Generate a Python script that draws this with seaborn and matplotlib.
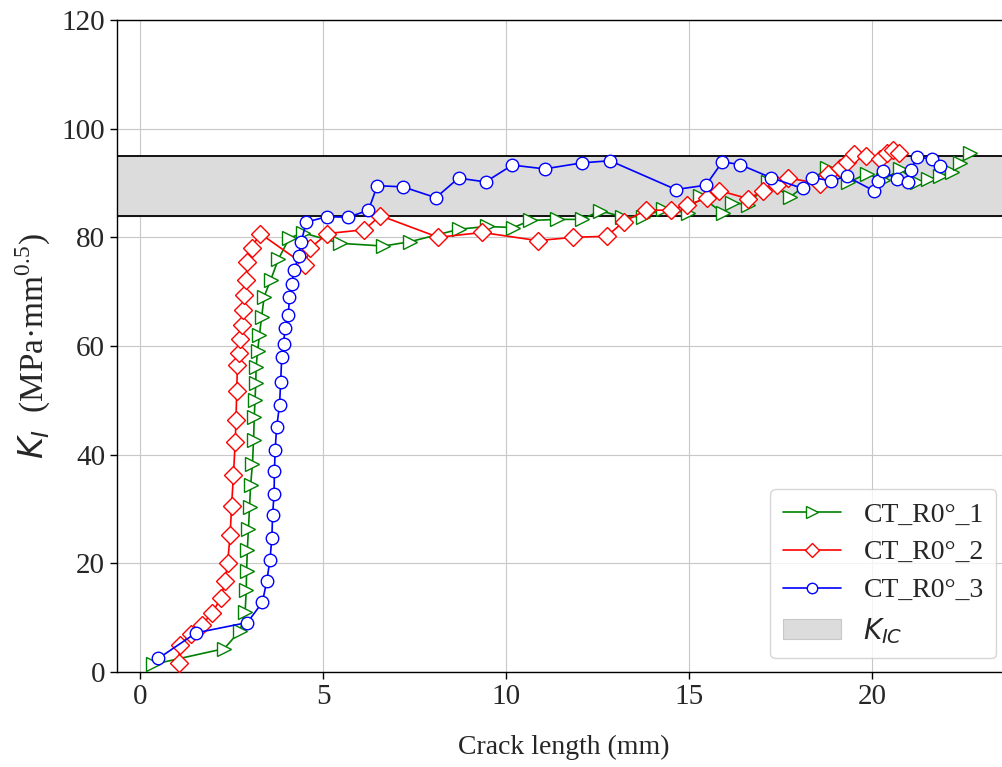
import numpy as np
import pandas as pd
import matplotlib
matplotlib.use("Agg")
import matplotlib.pyplot as plt
import seaborn as sns
from matplotlib.patches import Patch
from matplotlib.lines import Line2D

# ─────────────────────────────────────────
# DATA
# ─────────────────────────────────────────
x_ct1 = [0.36, 2.30, 2.73, 2.87, 2.90, 2.91, 2.93, 2.96, 2.99, 3.02, 3.07, 3.10,
         3.12, 3.14, 3.16, 3.17, 3.21, 3.26, 3.32, 3.39, 3.57, 3.78, 4.08, 4.46,
         5.46, 6.65, 7.38, 8.72, 9.47, 10.20, 10.66, 11.38, 12.07, 12.57, 13.16,
         13.75, 14.30, 14.98, 15.30, 15.94, 16.17, 16.62, 17.17, 17.76, 18.76,
         19.35, 19.85, 20.30, 20.77, 21.22, 21.54, 21.86, 22.18, 22.40, 22.68]
y_ct1 = [1.4, 4.3, 7.6, 11.1, 15.0, 18.6, 22.5, 26.3, 30.4, 34.4, 38.3, 42.7,
         47.0, 50.1, 53.1, 56.2, 59.0, 62.0, 65.3, 69.1, 72.2, 76.0, 79.9, 80.8,
         78.9, 78.4, 79.2, 81.5, 82.0, 81.8, 83.1, 83.3, 83.3, 84.9, 83.8,
         83.8, 85.2, 84.5, 87.6, 84.4, 86.4, 86.0, 90.2, 87.4, 92.7,
         90.1, 91.7, 90.6, 92.5, 90.2, 90.7, 91.3, 92.1, 93.6, 95.5]

x_ct2 = [1.05, 1.09, 1.40, 1.69, 1.96, 2.21, 2.32, 2.39, 2.46, 2.46, 2.50, 2.55,
         2.55, 2.60, 2.62, 2.64, 2.64, 2.66, 2.69, 2.73, 2.78, 2.81, 2.84, 2.90,
         2.93, 3.05, 3.28, 4.50, 4.64, 5.12, 6.13, 6.56, 8.15, 9.34, 10.86,
         11.84, 12.75, 13.22, 13.83, 14.50, 14.95, 15.50, 15.83, 16.62, 17.03,
         17.40, 17.71, 18.58, 18.81, 19.13, 19.31, 19.51, 19.83, 20.22, 20.40,
         20.58, 20.75]
y_ct2 = [1.6, 5.0, 7.0, 8.7, 10.8, 13.6, 16.7, 20.0, 23.4, 27.1, 30.6, 34.4,
         38.2, 42.4, 46.4, 50.2, 53.4, 56.5, 58.7, 61.2, 63.9, 66.6, 69.4, 72.2,
         75.5, 78.1, 80.7, 74.9, 78.0, 80.7, 81.4, 84.0, 80.0, 80.9, 79.4,
         80.0, 80.2, 82.9, 85.0, 85.0, 86.0, 87.2, 88.6, 87.1, 88.6,
         89.6, 90.9, 89.9, 91.7, 92.7, 93.9, 95.3, 95.0, 94.4, 95.6,
         96.0, 95.6]

x_ct3 = [0.50, 1.53, 2.93, 3.34, 3.46, 3.55, 3.60, 3.62, 3.66, 3.67, 3.69, 3.73,
         3.81, 3.84, 3.87, 3.92, 3.96, 4.05, 4.08, 4.14, 4.21, 4.33, 4.40, 4.54,
         5.10, 5.69, 6.24, 6.48, 7.18, 8.08, 8.70, 9.44, 10.17, 11.05, 12.07,
         12.84, 14.64, 15.46, 15.91, 16.39, 17.23, 18.10, 18.37, 18.87, 19.31,
         20.04, 20.15, 20.29, 20.67, 20.97, 21.06, 21.24, 21.63, 21.86]
y_ct3 = [2.5, 7.2, 9.1, 12.8, 16.7, 20.7, 24.7, 28.9, 32.7, 36.9, 40.9, 45.0,
         49.1, 53.4, 57.9, 60.4, 63.3, 65.7, 69.0, 71.4, 73.9, 76.6, 79.1, 82.8,
         83.8, 83.7, 85.0, 89.5, 89.3, 87.3, 90.9, 90.2, 93.3, 92.6, 93.7,
         94.1, 88.8, 89.6, 93.9, 93.4, 91.0, 89.0, 91.0, 90.4, 91.2,
         88.6, 90.4, 92.3, 90.7, 90.1, 92.4, 94.8, 94.4, 93.1]

kic_low, kic_high = 84.0, 95.0

labels = ["CT_R0°_1", "CT_R0°_2", "CT_R0°_3"]
colors = ["green", "red", "blue"]
markers = [">", "D", "o"]
msizes = [10, 9, 9]

# ─────────────────────────────────────────
# STYLE
# ─────────────────────────────────────────
sns.set_style("whitegrid")
plt.rcParams["font.family"] = ["Liberation Serif", "DejaVu Serif"]
plt.rcParams["mathtext.fontset"] = "dejavusans"
plt.rcParams["axes.edgecolor"] = "black"
plt.rcParams["grid.color"] = "#c8c8c8"

fig = plt.figure(figsize=(10.03, 7.67), dpi=100)
# axes runs slightly past the right edge, as in the cropped original
ax = fig.add_axes([0.1167, 0.1239, 0.8903, 0.8500])

# K_IC band
ax.axhspan(kic_low, kic_high, color="#dcdcdc", zorder=1)
ax.axhline(kic_low, color="black", lw=1.3, zorder=2)
ax.axhline(kic_high, color="black", lw=1.3, zorder=2)

series = [(x_ct1, y_ct1), (x_ct2, y_ct2), (x_ct3, y_ct3)]
for (xs, ys), lab, c, m, ms in zip(series, labels, colors, markers, msizes):
    df = pd.DataFrame({"a": xs, "K": ys})
    sns.lineplot(data=df, x="a", y="K", sort=False, ax=ax, color=c, lw=1.2,
                 marker=m, markersize=ms, markerfacecolor="white",
                 markeredgecolor=c, markeredgewidth=1.0, zorder=3)

ax.set_xlim(-0.63, 23.77)
ax.set_ylim(0, 120)
ax.set_xticks([0, 5, 10, 15, 20])
ax.set_yticks(np.arange(0, 121, 20))
ax.tick_params(axis="both", which="major", labelsize=21, length=5,
               width=1, direction="out", bottom=True, left=True, color="black")
for s in ax.spines.values():
    s.set_color("black")
    s.set_linewidth(1.0)

ax.set_xlabel("Crack length (mm)", fontsize=20, labelpad=18)
ax.set_ylabel(r"$K_I$  (MPa·mm$^{\mathregular{0.5}}$)", fontsize=24, labelpad=6)

handles = [Line2D([], [], color=c, lw=1.2, marker=m, markersize=ms - 1.5,
                  markerfacecolor="white", markeredgecolor=c)
           for c, m, ms in zip(colors, markers, msizes)]
handles.append(Patch(facecolor="#dcdcdc", edgecolor="#c8c8c8", lw=0.8))
ax.legend(handles, labels + [r"$K_{IC}$"], loc="lower right", fontsize=20,
          frameon=True, handlelength=2.1, borderpad=0.45, labelspacing=0.45,
          handletextpad=0.8)

fig.savefig("out.png", dpi=100)
